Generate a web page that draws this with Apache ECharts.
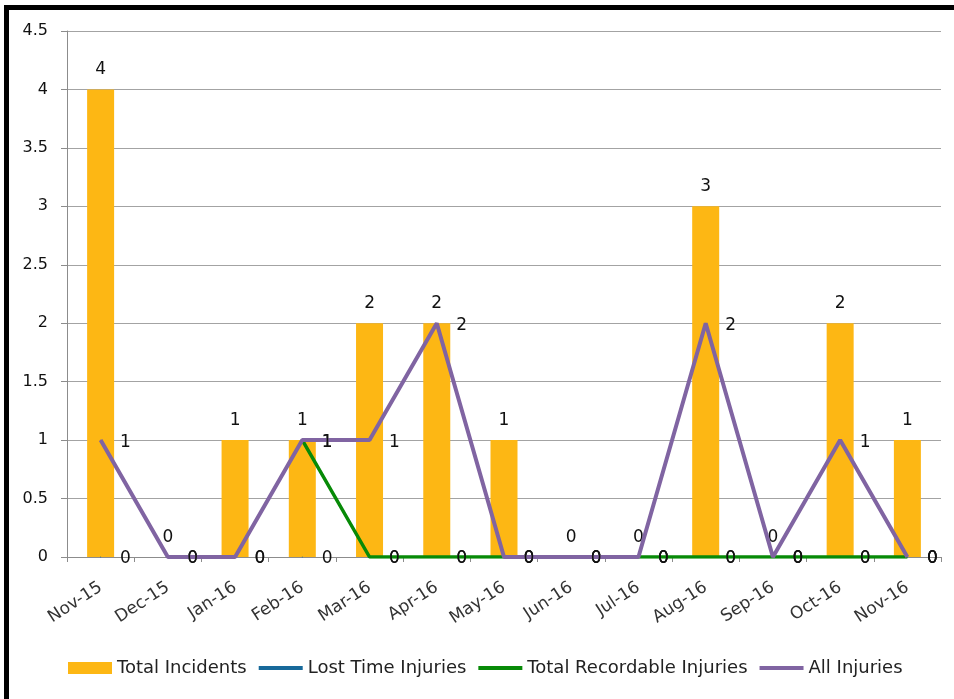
<!DOCTYPE html>
<html><head><meta charset="utf-8">
<script src="https://cdn.jsdelivr.net/npm/echarts@6/dist/echarts.min.js"></script>
<style>html,body{margin:0;padding:0;background:#fff}#c{width:954px;height:699px}</style>
</head><body><div id="c"></div>
<script>
const categories = ['Nov-15','Dec-15','Jan-16','Feb-16','Mar-16','Apr-16','May-16','Jun-16','Jul-16','Aug-16','Sep-16','Oct-16','Nov-16'];
const totalIncidents = [4,0,1,1,2,2,1,0,0,3,0,2,1];
const lostTimeInjuries = [0,0,0,0,0,0,0,0,0,0,0,0,0];
const totalRecordableInjuries = [null,null,null,1,0,0,0,0,0,0,0,0,0];
const allInjuries = [1,0,0,1,1,2,0,0,0,2,0,1,0];
const seriesNames = ['Total Incidents','Lost Time Injuries','Total Recordable Injuries','All Injuries'];
const yMin = 0, yMax = 4.5, yInterval = 0.5;

const FONT = 'DejaVu Sans';
const lineLabel = {show:true, position:'right', distance:19, color:'#111', fontFamily:FONT, fontSize:17, offset:[0,2]};
const linePath = 'path://M0,0L44,0L44,4L0,4Z';

const chart = echarts.init(document.getElementById('c'), null, {renderer:'canvas'});
chart.setOption({
  animation:false,
  backgroundColor:'#fff',
  grid:{left:67, right:13, top:31, bottom:142, containLabel:false},
  legend:{
    left:68, top:659, padding:0, itemWidth:44, itemHeight:12, itemGap:12,
    textStyle:{fontFamily:FONT, fontSize:18, color:'#222'},
    data:[
      {name:seriesNames[0], icon:'rect'},
      {name:seriesNames[1], icon:linePath, itemStyle:{color:'#17699A', opacity:1}},
      {name:seriesNames[2], icon:linePath},
      {name:seriesNames[3], icon:linePath}
    ]
  },
  xAxis:{
    type:'category', data:categories, boundaryGap:true,
    axisLine:{lineStyle:{color:'#8c8c8c', width:1}},
    axisTick:{show:true, length:5, alignWithLabel:false, lineStyle:{color:'#8c8c8c'}},
    axisLabel:{interval:0, rotate:33, margin:29, fontFamily:FONT, fontSize:17, color:'#333'}
  },
  yAxis:{
    type:'value', min:yMin, max:yMax, interval:yInterval,
    axisLine:{show:true, lineStyle:{color:'#8c8c8c', width:1}},
    axisTick:{show:true, length:6, lineStyle:{color:'#8c8c8c'}},
    splitLine:{show:true, lineStyle:{color:'#a3a3a3', width:1}},
    axisLabel:{margin:19, fontFamily:FONT, fontSize:16, color:'#111'}
  },
  graphic:[
    {type:'rect', shape:{x:4, y:5, width:950, height:5}, style:{fill:'#000'}, z:100},
    {type:'rect', shape:{x:4, y:5, width:5, height:694}, style:{fill:'#000'}, z:100}
  ],
  series:[
    {name:seriesNames[0], type:'bar', data:totalIncidents, barWidth:27,
     itemStyle:{color:'#FDB714'},
     label:{show:true, position:'top', distance:11, color:'#111', fontFamily:FONT, fontSize:17}},
    {name:seriesNames[1], type:'line', data:lostTimeInjuries, symbol:'circle', symbolSize:1,
     lineStyle:{color:'#17699A', width:4, opacity:0}, itemStyle:{color:'#17699A'}, label:lineLabel, z:3},
    {name:seriesNames[2], type:'line', data:totalRecordableInjuries, symbol:'circle', symbolSize:1,
     lineStyle:{color:'#078A07', width:3.5}, itemStyle:{color:'#078A07'}, label:lineLabel, z:4},
    {name:seriesNames[3], type:'line', data:allInjuries, symbol:'circle', symbolSize:1,
     lineStyle:{color:'#8064A2', width:4}, itemStyle:{color:'#8064A2'}, label:lineLabel, z:5}
  ]
});
</script></body></html>
